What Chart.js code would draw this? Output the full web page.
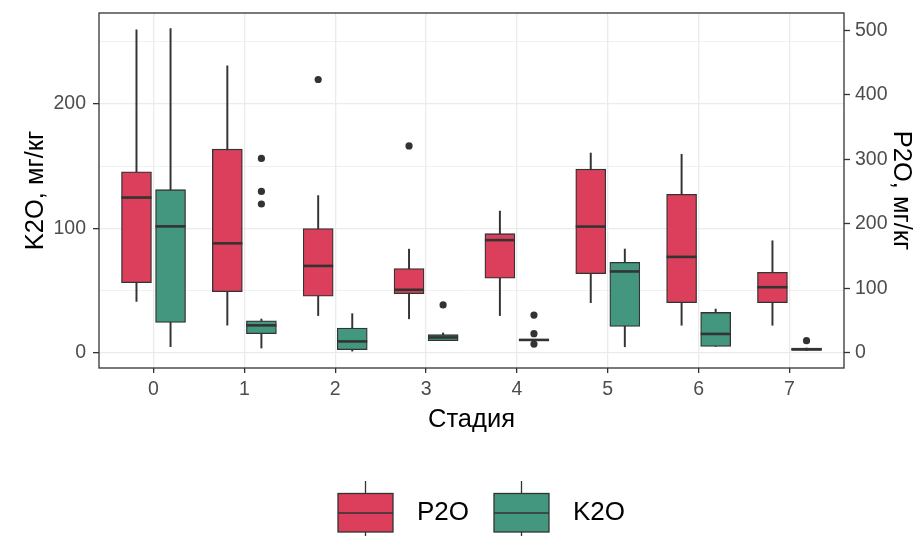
<!DOCTYPE html>
<html>
<head>
<meta charset="utf-8">
<script src="https://cdn.jsdelivr.net/npm/chart.js@4.4.1/dist/chart.umd.min.js"></script>
<style>
  html, body { margin: 0; padding: 0; background: #fff; }
</style>
</head>
<body>
<canvas id="chart" width="922" height="540"></canvas>
<script>
const stages = [0, 1, 2, 3, 4, 5, 6, 7];

// P2O, мг/кг (right axis)
const p2oMin = [80, 43, 58, 53, 58, 78, 43, 43];
const p2oQ1 = [109, 95, 88, 92, 116, 123, 78, 78];
const p2oMed = [241, 170, 135, 98, 175, 196, 149, 102];
const p2oQ3 = [281, 316, 193, 131, 185, 285, 246, 125];
const p2oMax = [501, 445, 244, 161, 220, 310, 308, 174];
const p2oOutStage = [2, 3];
const p2oOutVal = [424, 321];

// K2O, мг/кг (left axis)
const k2oMin = [5, 4, 1.5, 9.9, 10, 5, 5.3, 2];
const k2oQ1 = [24.6, 15.5, 2.7, 9.9, 10, 21.4, 5.3, 2];
const k2oMed = [101.7, 22.2, 9.3, 12.5, 10.5, 65.5, 15.3, 3];
const k2oQ3 = [131.2, 25.9, 20.1, 14.7, 11, 72.8, 32.6, 4];
const k2oMax = [260.5, 27.3, 31.6, 16.1, 11, 83.5, 35.3, 4];
const k2oOutStage = [1, 1, 1, 3, 4, 4, 4, 7];
const k2oOutVal = [156.3, 129.8, 119.7, 38.6, 30.5, 15.5, 7.2, 9.9];

const leftTicks = [0, 50, 100, 150, 200, 250];
const rightTicks = [0, 100, 200, 300, 400, 500];

const red = "#DC3F5B";
const teal = "#44977F";
const ink = "#333333";
const dodge = 0.1875;
const k2oToP2o = 1.93;
const leftMin = -12.05, leftMax = 273.1;

Chart.defaults.font.family = "'Liberation Sans', Arial, sans-serif";

function boxData(q1, q3, shift) {
    return stages.map((s, i) => ({ x: s + shift, y: [q1[i], q3[i]] }));
}
function pointData(xs, ys, shift) {
    return xs.map((s, i) => ({ x: s + shift, y: ys[i] }));
}

function seriesSets(label, color, axis, shift, mn, q1, med, q3, mx, outX, outY) {
    return [
        {
            type: "bar", label: label + " whisker", yAxisID: axis, order: 3,
            data: boxData(mn, mx, shift),
            backgroundColor: ink, borderWidth: 0, barThickness: 1.3, grouped: false,
        },
        {
            type: "bar", label: label, yAxisID: axis, order: 2,
            data: boxData(q1, q3, shift),
            backgroundColor: color, borderColor: ink, borderWidth: 1.3,
            borderSkipped: false, barThickness: 30, grouped: false,
        },
        {
            type: "scatter", label: label + " median", yAxisID: axis, order: 1,
            data: pointData(stages, med, shift),
            pointStyle: "line", pointRadius: 15, pointBorderWidth: 2.6,
            pointBorderColor: ink, pointBackgroundColor: ink, borderColor: ink,
        },
        {
            type: "scatter", label: label + " outliers", yAxisID: axis, order: 0,
            data: pointData(outX, outY, shift),
            pointStyle: "circle", pointRadius: 3.6, pointBorderWidth: 0,
            pointBackgroundColor: ink, pointBorderColor: ink,
        },
    ];
}

// boxplot glyph for the legend keys
function keyIcon(fill) {
    const c = document.createElement("canvas");
    c.width = 67;
    c.height = 64;
    const g = c.getContext("2d");
    g.strokeStyle = ink;
    g.lineWidth = 1.3;
    g.beginPath();
    g.moveTo(28.5, 0);
    g.lineTo(28.5, 64);
    g.stroke();
    g.fillStyle = fill;
    g.fillRect(1, 12.5, 55, 38.5);
    g.strokeRect(1, 12.5, 55, 38.5);
    g.beginPath();
    g.moveTo(1, 32);
    g.lineTo(56, 32);
    g.stroke();
    return c;
}

const panelBorder = {
    id: "panelBorder",
    afterDatasetsDraw(chart) {
        const a = chart.chartArea;
        const g = chart.ctx;
        g.save();
        g.strokeStyle = ink;
        g.lineWidth = 1.3;
        g.strokeRect(a.left, a.top, a.right - a.left, a.bottom - a.top);
        g.restore();
    },
};

// fixed axis sizes, no extra label padding
function fixSize(w, h) {
    return (s) => {
        if (w !== null) s.width = w;
        if (h !== null) s.height = h;
        s.paddingTop = 0;
        s.paddingBottom = 0;
        s.paddingLeft = 0;
        s.paddingRight = 0;
    };
}

const tickFont = { size: 19.5 };
const titleFont = { size: 25.5 };

new Chart(document.getElementById("chart"), {
    type: "bar",
    data: {
        datasets: [
            ...seriesSets("P2O", red, "y2", -dodge, p2oMin, p2oQ1, p2oMed, p2oQ3, p2oMax, p2oOutStage, p2oOutVal),
            ...seriesSets("K2O", teal, "y", dodge, k2oMin, k2oQ1, k2oMed, k2oQ3, k2oMax, k2oOutStage, k2oOutVal),
        ],
    },
    options: {
        responsive: false,
        animation: false,
        devicePixelRatio: 1,
        layout: { autoPadding: false, padding: { left: 40, right: 0, top: 13, bottom: 4 } },
        plugins: {
            tooltip: { enabled: false },
            legend: {
                position: "bottom",
                labels: {
                    usePointStyle: true,
                    pointStyleWidth: 67,
                    padding: 24,
                    color: "#000",
                    font: { size: 26 },
                    generateLabels: () => [
                        { text: "P2O", pointStyle: keyIcon(red), fillStyle: red, strokeStyle: ink, lineWidth: 0, hidden: false, datasetIndex: 1, fontColor: "#000" },
                        { text: "K2O", pointStyle: keyIcon(teal), fillStyle: teal, strokeStyle: ink, lineWidth: 0, hidden: false, datasetIndex: 5, fontColor: "#000" },
                    ],
                },
            },
        },
        scales: {
            x: {
                type: "linear",
                position: "bottom",
                min: -0.6,
                max: 7.6,
                offset: false,
                afterBuildTicks: (s) => { s.ticks = stages.map((v) => ({ value: v })); },
                afterFit: fixSize(null, 108),
                grid: { offset: false, color: "#EBEBEB", lineWidth: 1.3, tickColor: ink, tickLength: 5, tickWidth: 1.3 },
                border: { display: false },
                ticks: { font: tickFont, color: "#4D4D4D", padding: 5, autoSkip: false, maxRotation: 0 },
                title: { display: true, text: "Стадия", font: titleFont, color: "#000", padding: { top: 0, bottom: 40.7 } },
            },
            y: {
                position: "left",
                min: leftMin,
                max: leftMax,
                afterBuildTicks: (s) => { s.ticks = leftTicks.map((v) => ({ value: v })); },
                afterFit: fixSize(59, null),
                grid: {
                    color: "#EBEBEB",
                    lineWidth: (c) => (c.tick && c.tick.value % 100 === 0 ? 1.3 : 0.7),
                    tickColor: (c) => (c.tick && c.tick.value % 100 === 0 ? ink : "rgba(0,0,0,0)"),
                    tickLength: 6,
                    tickWidth: 1.3,
                },
                border: { display: false },
                ticks: {
                    font: tickFont, color: "#4D4D4D", padding: 7, autoSkip: false,
                    callback: (v) => (v % 100 === 0 ? v : ""),
                },
                title: { display: true, text: "K2O, мг/кг", font: titleFont, color: "#000", padding: { top: -19.3, bottom: 0 } },
            },
            y2: {
                position: "right",
                min: leftMin * k2oToP2o,
                max: leftMax * k2oToP2o,
                afterBuildTicks: (s) => { s.ticks = rightTicks.map((v) => ({ value: v })); },
                afterFit: fixSize(78, null),
                grid: { drawOnChartArea: false, tickColor: ink, tickLength: 6, tickWidth: 1.3 },
                border: { display: false },
                ticks: { font: tickFont, color: "#4D4D4D", padding: 5, autoSkip: false },
                title: { display: true, text: "P2O, мг/кг", font: titleFont, color: "#000", padding: { top: 6, bottom: 0 } },
            },
        },
    },
    plugins: [panelBorder],
});
</script>
</body>
</html>
